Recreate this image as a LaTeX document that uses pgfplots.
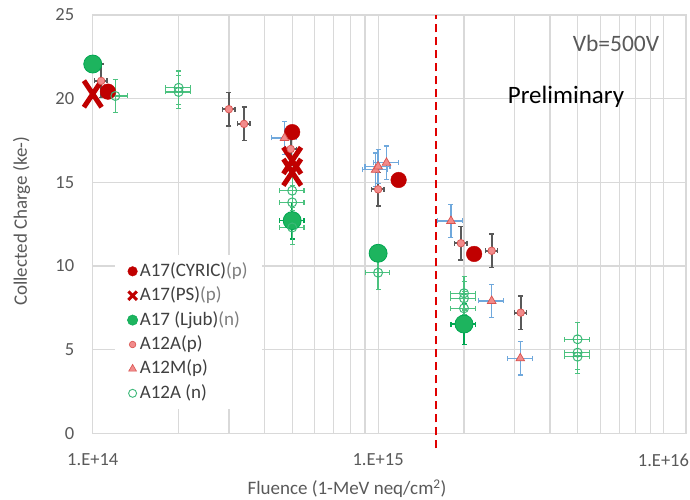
\documentclass[border=0pt]{standalone}
\usepackage{fontspec}
\setmainfont{Carlito}
\usepackage{pgfplots}
\pgfplotsset{compat=1.18}
\definecolor{cred}{HTML}{C00000}
\definecolor{gridc}{HTML}{D9D9D9}
\definecolor{tickc}{HTML}{595959}
\definecolor{legc}{HTML}{404040}
\definecolor{lightc}{HTML}{7F7F7F}
\definecolor{ljubfill}{HTML}{1DB45E}
\definecolor{ljubdraw}{HTML}{00A651}
\definecolor{pinkfill}{HTML}{F28B8B}
\definecolor{pinkdraw}{HTML}{D9534F}
\definecolor{grnopen}{HTML}{3CB878}
\definecolor{errgray}{HTML}{595959}
\definecolor{errblue}{HTML}{6FA8DC}
\definecolor{errgreen}{HTML}{4CC27F}
\definecolor{dashred}{HTML}{E00000}
\begin{document}
\begin{tikzpicture}
\path[use as bounding box] (-92.7pt,-66.7pt) rectangle (597.3pt,433.3pt);
\begin{axis}[
  at={(0pt,0pt)}, anchor=south west,
  scale only axis, width=593.3pt, height=418.3pt,
  xmode=log, xmin=1e14, xmax=1.2e16, ymin=0, ymax=25,
  xtick={1e14,1e15,1e16}, xticklabels={1.E+14,1.E+15,1.E+16},
  minor xtick={2e14,3e14,4e14,5e14,6e14,7e14,8e14,9e14,2e15,3e15,4e15,5e15,6e15,7e15,8e15,9e15},
  ytick={0,5,10,15,20,25},
  xmajorgrids, xminorgrids, ymajorgrids,
  major grid style={draw=gridc, line width=1.2pt},
  minor grid style={draw=gridc, line width=1.2pt},
  axis line style={draw=gridc, line width=1.2pt},
  major tick length=0pt, minor tick length=0pt,
  tick style={draw=none},
  ticklabel style={font=\fontsize{18.5}{22}\selectfont, text=tickc},
  /pgf/number format/assume math mode=true,
  xticklabel style={yshift=-17pt},
  yticklabel style={xshift=-15pt},
  clip=false,
  legend cell align=left,
  legend style={at={(rel axis cs:0.037,0.426)}, anchor=north west, draw=none, fill=white,
    font=\fontsize{19}{22}\selectfont, text=legc, row sep=4.4pt, inner xsep=12.5pt, inner ysep=6pt,
    nodes={inner sep=2pt, text height=13pt, text depth=3pt}},
]
% legend images
\addlegendimage{only marks, mark=*, mark size=4.8pt, mark options={fill=cred, draw=cred}}
\addlegendentry{A17(CYRIC)\textcolor{lightc}{(p)}}
\addlegendimage{only marks, mark=x, mark size=6pt, mark options={draw=cred, line width=3pt}}
\addlegendentry{A17(PS)\textcolor{lightc}{(p)}}
\addlegendimage{only marks, mark=*, mark size=5.2pt, mark options={fill=ljubfill, draw=ljubdraw}}
\addlegendentry{A17 (Ljub)\textcolor{lightc}{(n)}}
\addlegendimage{only marks, mark=*, mark size=3.3pt, mark options={fill=pinkfill, draw=pinkdraw, line width=0.6pt}}
\addlegendentry{A12A(p)}
\addlegendimage{only marks, mark=triangle*, mark size=4.5pt, mark options={fill=pinkfill, draw=pinkdraw, line width=0.6pt}}
\addlegendentry{A12M(p)}
\addlegendimage{only marks, mark=o, mark size=4pt, mark options={draw=grnopen, fill=white, line width=0.9pt}}
\addlegendentry{A12A (n)}

% dashed line
\addplot[forget plot, dashred, line width=2pt, dash pattern=on 8pt off 5pt] coordinates {(1.6e15,-0.9) (1.6e15,25)};

% A17 (CYRIC)(p)
\addplot[forget plot, only marks, mark=*, mark size=7.8pt, mark options={fill=cred, draw=cred}]
  coordinates {(1.13e14,20.42) (5e14,18.0) (1.18e15,15.14) (2.17e15,10.72)};
% A17 (PS)(p)
\addplot[forget plot, only marks, mark=x, mark size=12.5pt, mark options={draw=cred, line width=5pt, yscale=1.5}]
  coordinates {(1e14,20.28) (5e14,16.3) (5e14,15.6)};
% A17 (Ljub)(n)
\addplot[forget plot, only marks, mark=*, mark size=9pt, mark options={fill=ljubfill, draw=ljubdraw, line width=0.8pt},
  error bars/.cd, y dir=both, y explicit, x dir=both, x explicit,
  error bar style={draw=ljubdraw, line width=1.6pt},
  error mark options={rotate=90, mark size=2.5pt, draw=ljubdraw, line width=1.2pt}]
  coordinates {(1e14,22.07) +- (0,0) (5e14,12.71) +- (5e13,1.1) (1e15,10.76) +- (0,0) (2e15,6.53) +- (2e14,1.2)};
% A12A(p)
\addplot[forget plot, only marks, mark=*, mark size=3.8pt, mark options={fill=pinkfill, draw=pinkdraw, line width=0.7pt},
  error bars/.cd, y dir=both, y fixed=1.0, x dir=both, x fixed relative=0.05,
  error bar style={draw=errgray, line width=1.8pt},
  error mark options={rotate=90, mark size=2.5pt, draw=errgray, line width=1.4pt}]
  coordinates {(1.07e14,21.06) (3e14,19.37) (3.39e14,18.49) (4.94e14,16.99) (1e15,14.58) (1.95e15,11.36) (2.5e15,10.91) (3.16e15,7.21)};
% A12M(p)
\addplot[forget plot, only marks, mark=triangle*, mark size=5pt, mark options={fill=pinkfill, draw=pinkdraw, line width=0.7pt},
  error bars/.cd, y dir=both, y fixed=1.0, x dir=both, x fixed relative=0.1,
  error bar style={draw=errblue, line width=1.4pt},
  error mark options={rotate=90, mark size=2.5pt, draw=errblue, line width=1.2pt}]
  coordinates {(4.7e14,17.65) (9.8e14,15.75) (1.0e15,15.95) (1.07e15,16.17) (1.8e15,12.69) (2.5e15,7.91) (3.15e15,4.48)};
% A12A (n)
\addplot[forget plot, only marks, mark=o, mark size=4.5pt, mark options={draw=grnopen, fill=white, line width=1pt},
  error bars/.cd, y dir=both, y fixed=1.0, x dir=both, x fixed relative=0.1,
  error bar style={draw=errgreen, line width=1.3pt},
  error mark options={rotate=90, mark size=2.5pt, draw=errgreen, line width=1.1pt}]
  coordinates {(1.2e14,20.16) (2e14,20.65) (2e14,20.4) (5e14,14.5) (5e14,13.8) (5e14,12.3) (1e15,9.6) (2e15,8.37) (2e15,8.07) (2e15,7.47) (5e15,5.62) (5e15,4.82) (5e15,4.58)};

\end{axis}
\node[rotate=90, text=tickc, font=\fontsize{19}{22}\selectfont] at (-71.2pt,212pt) {Collected Charge (ke-)};
\node[text=tickc, font=\fontsize{19}{22}\selectfont] at (254.3pt,-55.5pt) {Fluence (1-MeV neq/cm\textsuperscript{2})};
\node[text=tickc, font=\fontsize{23.5}{27}\selectfont] at (523.3pt,390.3pt) {Vb=500V};
\node[text=black, font=\fontsize{25}{29}\selectfont] at (473.3pt,336.3pt) {Preliminary};
\end{tikzpicture}
\end{document}
